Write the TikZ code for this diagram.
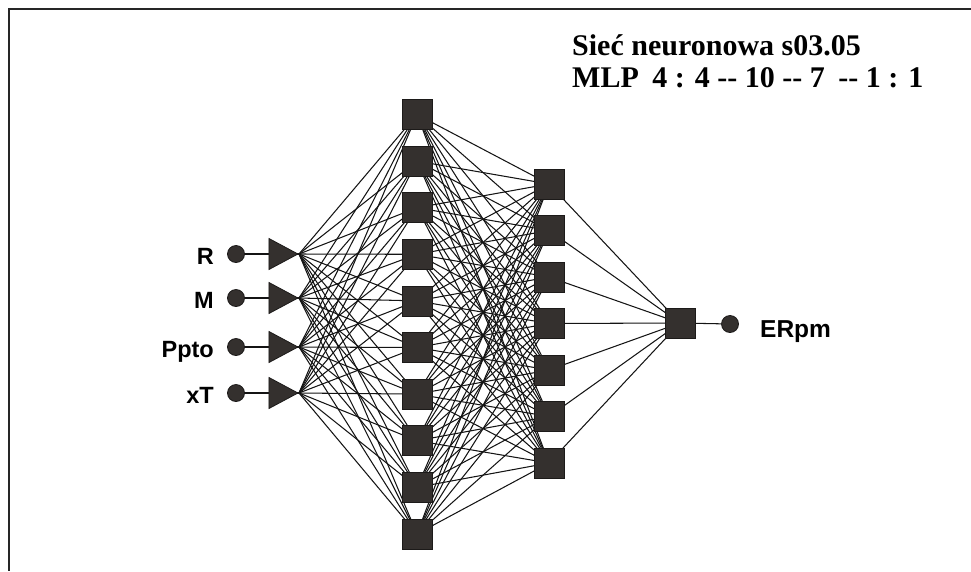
\documentclass[tikz,border=0pt]{standalone}
\usepackage{fontspec}
\setmainfont{Liberation Serif}
\newfontfamily\arialb{Liberation Sans}
\usetikzlibrary{shapes.geometric,backgrounds}
\definecolor{nfill}{RGB}{52,48,46}
\definecolor{nline}{RGB}{28,26,25}
\begin{document}
\begin{tikzpicture}[x=1pt,y=-1pt,
  sq/.style={rectangle,fill=nfill,draw=nline,line width=0.8pt,minimum size=30pt,inner sep=0},
  inp/.style={circle,fill=nfill,draw=nline,line width=0.8pt,minimum size=17pt,inner sep=0},
  tri/.style={isosceles triangle,isosceles triangle stretches,fill=nfill,draw=nline,line width=0.8pt,minimum width=31pt,minimum height=29pt,inner sep=0,anchor=apex},
  wire/.style={line width=1.05pt,draw=black!92},
  lbl/.style={font=\arialb\bfseries\fontsize{23.5}{28}\selectfont,inner sep=0},
  ttl/.style={font=\bfseries\fontsize{30}{35}\selectfont,inner sep=0}]
\useasboundingbox (0,0) rectangle (971,571);
\draw[line width=1.4pt,draw=black!85] (971,9) -- (9,9) -- (9,571);

% title
\node[ttl,anchor=base west] (t1) at (572,55) {Sieć neuronowa s03.05};
\node[ttl,anchor=base west] (t2) at (572,87) {MLP\hspace{0.45em}4 : 4 -{}- 10 -{}- 7\hspace{0.45em}-{}- 1 : 1};

% inputs
\foreach \i/\y/\t in {1/254/R,2/298/M,3/347/Ppto,4/393/xT}{
  \node[inp] (c\i) at (236,\y) {};
  \node[tri] (t\i) at (299,\y) {};
  \node[lbl,anchor=base east] (l\i) at (214,\y+10.5) {\t};
}
% hidden layer 1
\foreach \j in {1,...,10}{
  \node[sq] (h\j) at (417,{114.5+46.6*(\j-1)}) {};
}
% hidden layer 2
\foreach \k in {1,...,7}{
  \node[sq] (g\k) at (549,{184+46.5*(\k-1)}) {};
}
% output
\node[sq] (o) at (680,323) {};
\node[inp] (out) at (730,324) {};
\node[lbl,font=\arialb\bfseries\fontsize{24.5}{29}\selectfont,anchor=base west] (lo) at (760,337) {ERpm};

\begin{scope}[on background layer]
  \foreach \i in {1,...,4}{
    \draw[wire] (c\i) -- (t\i.apex);
    \foreach \j in {1,...,10}{ \draw[wire] (t\i.apex) -- (h\j.center); }
  }
  \foreach \j in {1,...,10}{
    \foreach \k in {1,...,7}{ \draw[wire] (h\j.center) -- (g\k.center); }
  }
  \foreach \k in {1,...,7}{ \draw[wire] (g\k.center) -- (o.center); }
  \draw[wire] (o) -- (out);
\end{scope}
\end{tikzpicture}
\end{document}
